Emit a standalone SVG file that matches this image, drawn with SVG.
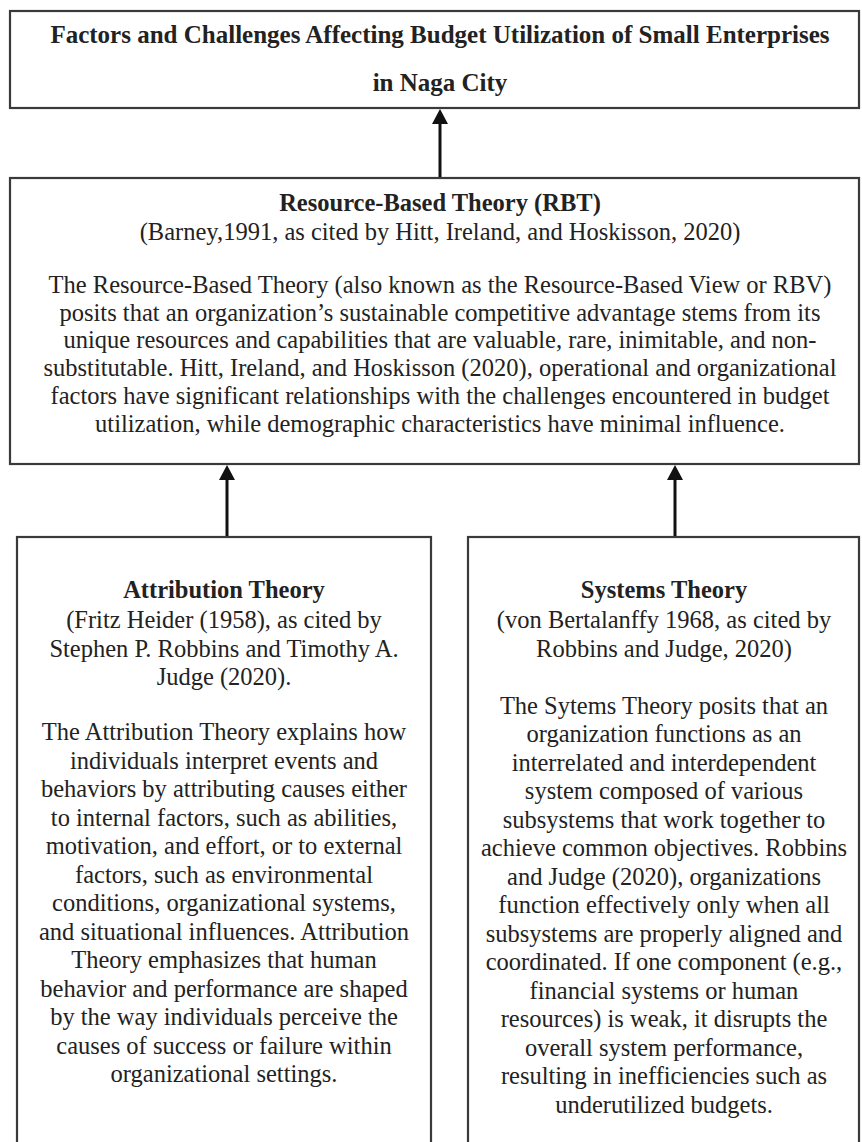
<svg xmlns="http://www.w3.org/2000/svg" width="862" height="1142" viewBox="0 0 862 1142">
<style>
.box{fill:#fff;stroke:#3a3a3a;stroke-width:2.2}
.t{font-family:"Liberation Serif","Times New Roman",serif;font-size:24.5px;fill:#222;text-anchor:middle}
.b{font-weight:bold;font-size:24.5px}
.h{font-weight:bold;font-size:25px}
.conn{stroke:#111;stroke-width:3;fill:none}
</style>
<defs>
<marker id="ah" markerWidth="16" markerHeight="16" refX="5" refY="8" orient="auto" markerUnits="userSpaceOnUse">
<path d="M0,0 L15,8 L0,16 z" fill="#111"/>
</marker>
</defs>
<rect width="862" height="1142" fill="#fff"/>

<g id="node-outcome">
<rect class="box" x="10" y="11" width="849" height="97"/>
<text class="t h" x="440" y="43">Factors and Challenges Affecting Budget Utilization of Small Enterprises</text>
<text class="t h" x="440" y="91">in Naga City</text>
</g>

<g id="node-rbt">
<rect class="box" x="10" y="178" width="849" height="286"/>
<text class="t b" x="440" y="211">Resource-Based Theory (RBT)</text>
<text class="t" x="440" y="240">(Barney,1991, as cited by Hitt, Ireland, and Hoskisson, 2020)</text>
<text class="t" x="440" y="293">The Resource-Based Theory (also known as the Resource-Based View or RBV)</text>
<text class="t" x="440" y="320.7">posits that an organization’s sustainable competitive advantage stems from its</text>
<text class="t" x="440" y="348.4">unique resources and capabilities that are valuable, rare, inimitable, and non-</text>
<text class="t" x="440" y="376.1">substitutable. Hitt, Ireland, and Hoskisson (2020), operational and organizational</text>
<text class="t" x="440" y="403.8">factors have significant relationships with the challenges encountered in budget</text>
<text class="t" x="440" y="431.5">utilization, while demographic characteristics have minimal influence.</text>
</g>

<g id="node-attribution">
<rect class="box" x="17" y="537" width="414" height="620"/>
<text class="t b" x="224" y="598">Attribution Theory</text>
<text class="t" x="224" y="628">(Fritz Heider (1958), as cited by</text>
<text class="t" x="224" y="656.5">Stephen P. Robbins and Timothy A.</text>
<text class="t" x="224" y="685">Judge (2020).</text>
<text class="t" x="224" y="740">The Attribution Theory explains how</text>
<text class="t" x="224" y="768.5">individuals interpret events and</text>
<text class="t" x="224" y="797">behaviors by attributing causes either</text>
<text class="t" x="224" y="825.5">to internal factors, such as abilities,</text>
<text class="t" x="224" y="854">motivation, and effort, or to external</text>
<text class="t" x="224" y="882.5">factors, such as environmental</text>
<text class="t" x="224" y="911">conditions, organizational systems,</text>
<text class="t" x="224" y="939.5">and situational influences. Attribution</text>
<text class="t" x="224" y="968">Theory emphasizes that human</text>
<text class="t" x="224" y="996.5">behavior and performance are shaped</text>
<text class="t" x="224" y="1025">by the way individuals perceive the</text>
<text class="t" x="224" y="1053.5">causes of success or failure within</text>
<text class="t" x="224" y="1082">organizational settings.</text>
</g>

<g id="node-systems">
<rect class="box" x="468" y="537" width="391" height="620"/>
<text class="t b" x="664" y="598">Systems Theory</text>
<text class="t" x="664" y="628">(von Bertalanffy 1968, as cited by</text>
<text class="t" x="664" y="656.5">Robbins and Judge, 2020)</text>
<text class="t" x="664" y="713.5">The Sytems Theory posits that an</text>
<text class="t" x="664" y="742">organization functions as an</text>
<text class="t" x="664" y="770.5">interrelated and interdependent</text>
<text class="t" x="664" y="799">system composed of various</text>
<text class="t" x="664" y="827.5">subsystems that work together to</text>
<text class="t" x="664" y="856">achieve common objectives. Robbins</text>
<text class="t" x="664" y="884.5">and Judge (2020), organizations</text>
<text class="t" x="664" y="913">function effectively only when all</text>
<text class="t" x="664" y="941.5">subsystems are properly aligned and</text>
<text class="t" x="664" y="970">coordinated. If one component (e.g.,</text>
<text class="t" x="664" y="998.5">financial systems or human</text>
<text class="t" x="664" y="1027">resources) is weak, it disrupts the</text>
<text class="t" x="664" y="1055.5">overall system performance,</text>
<text class="t" x="664" y="1084">resulting in inefficiencies such as</text>
<text class="t" x="664" y="1112.5">underutilized budgets.</text>
</g>

<g id="connectors">
<line class="conn" x1="440" y1="177" x2="440" y2="119" marker-end="url(#ah)"/>
<line class="conn" x1="227" y1="536" x2="227" y2="475" marker-end="url(#ah)"/>
<line class="conn" x1="675" y1="536" x2="675" y2="475" marker-end="url(#ah)"/>
</g>
</svg>
